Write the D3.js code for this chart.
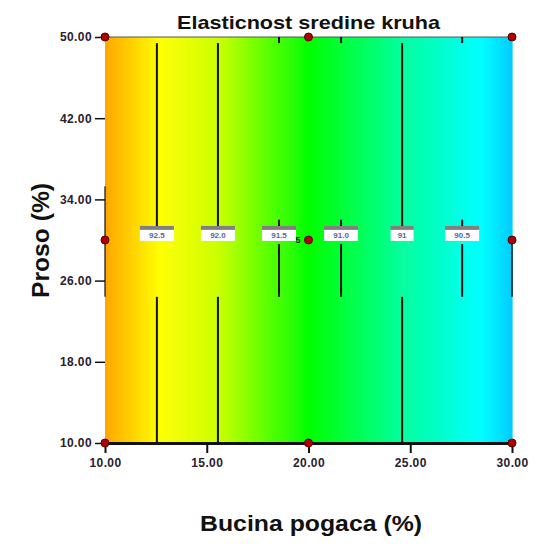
<!DOCTYPE html>
<html>
<head>
<meta charset="utf-8">
<script src="https://cdnjs.cloudflare.com/ajax/libs/d3/7.8.5/d3.min.js"></script>
<style>
  body { margin: 0; background: #fff; }
  text { font-family: "Liberation Sans", Arial, sans-serif; font-weight: bold; }
</style>
</head>
<body>
<div id="chart-area"></div>
<script>
// Data
var xTicks = [10, 15, 20, 25, 30];
var yTicks = [10, 18, 26, 34, 42, 50];

// design points (Bucina pogaca, Proso)
var pointsX = [10, 10, 10, 20, 20, 20, 30, 30, 30];
var pointsY = [10, 30, 50, 10, 30, 50, 10, 30, 50];
var centerReps = "5";

// contour lines: x position, label, visible y-ranges
var contourX = [12.55, 15.55, 18.55, 21.6, 24.6, 27.55];
var contourLabels = ["92.5", "92.0", "91.5", "91.0", "91", "90.5"];
var contourSegments = [
    [[10, 24.4], [31.3, 49.4]],
    [[10, 24.4], [31.3, 49.4]],
    [[24.4, 29.6], [31.3, 32.0], [49.4, 50]],
    [[24.4, 29.6], [31.3, 32.0], [49.4, 50]],
    [[10, 24.4], [31.3, 49.4]],
    [[24.4, 29.6], [31.3, 32.0], [49.4, 50]]
];
var labelY = 30.5;

var margin = { left: 105, right: 26, top: 37, bottom: 101 },
    width = 538 - margin.left - margin.right,
    height = 544 - margin.top - margin.bottom;

var svg = d3.select("#chart-area")
    .append("svg")
    .attr("width", 538)
    .attr("height", 544);
var g = svg.append("g")
    .attr("transform", "translate(" + margin.left + "," + margin.top + ")");

// Scales
var x = d3.scaleLinear().domain([10, 30]).range([0, width]);
var y = d3.scaleLinear().domain([10, 50]).range([height, 0]);
var color = d3.scaleLinear()
    .domain([10, 12.7, 15.5, 20, 24.5, 28.5, 30])
    .range(["#ffa500", "#ffff00", "#ccff00", "#00ff00", "#00ff99", "#00ffff", "#00ccff"]);

// colour surface, drawn as thin strips
var strips = d3.range(200).map(function(i){ return 10 + i * 20 / 200; });
g.selectAll(".strip")
    .data(strips)
    .enter().append("rect")
    .attr("class", "strip")
    .attr("x", function(d){ return x(d); })
    .attr("y", 0)
    .attr("width", x(10 + 20 / 200) - x(10) + 0.6)
    .attr("height", height)
    .attr("fill", function(d){ return color(d + 0.05); });

// top border
g.append("line")
    .attr("x1", 0).attr("x2", width)
    .attr("y1", 0).attr("y2", 0)
    .attr("stroke", "#555")
    .attr("stroke-width", 1);

// contour lines
contourX.forEach(function(cx, i){
    contourSegments[i].forEach(function(s){
        g.append("line")
            .attr("x1", x(cx)).attr("x2", x(cx))
            .attr("y1", y(s[0])).attr("y2", y(s[1]))
            .attr("stroke", "#111")
            .attr("stroke-width", 2);
    });
});

// contour labels
var lab = g.selectAll(".clabel")
    .data(contourX)
    .enter().append("g")
    .attr("class", "clabel")
    .attr("transform", function(d){ return "translate(" + x(d) + "," + y(labelY) + ")"; });
lab.each(function(d, i){
    var w = contourLabels[i].length > 2 ? 34 : 23;
    var s = d3.select(this);
    s.append("rect")
        .attr("x", -w / 2).attr("y", -9)
        .attr("width", w).attr("height", 4)
        .attr("fill", "#808080");
    s.append("rect")
        .attr("x", -w / 2).attr("y", -5)
        .attr("width", w).attr("height", 11)
        .attr("fill", "#fff");
    s.append("text")
        .attr("x", 0).attr("y", 3)
        .attr("text-anchor", "middle")
        .attr("font-size", "8px")
        .attr("fill", "#5566aa")
        .text(contourLabels[i]);
});

// Y-axis
var yAxis = g.append("g")
    .attr("class", "y axis")
    .call(d3.axisLeft(y).tickValues(yTicks).tickFormat(d3.format(".2f")).tickSize(10).tickPadding(3));
yAxis.select(".domain").remove();
yAxis.selectAll("line").attr("stroke", "#111").attr("stroke-width", 1.5);
yAxis.selectAll("text").attr("font-size", "12px").attr("letter-spacing", "0.4px").attr("fill", "#2a2030");

// left axis segment
g.append("line")
    .attr("x1", 0).attr("x2", 0)
    .attr("y1", y(35.3)).attr("y2", y(24.4))
    .attr("stroke", "#111").attr("stroke-width", 1.2);
g.append("line")
    .attr("x1", width).attr("x2", width)
    .attr("y1", y(29.6)).attr("y2", y(24.4))
    .attr("stroke", "#111").attr("stroke-width", 1.5);

// X-axis
var xAxis = g.append("g")
    .attr("class", "x axis")
    .attr("transform", "translate(0," + height + ")")
    .call(d3.axisBottom(x).tickValues(xTicks).tickFormat(d3.format(".2f")).tickSize(10).tickSizeOuter(0).tickPadding(5));
xAxis.select(".domain").attr("stroke", "#111").attr("stroke-width", 3);
xAxis.selectAll("line").attr("stroke", "#111").attr("stroke-width", 2);
xAxis.selectAll("text").attr("font-size", "12px").attr("letter-spacing", "0.4px").attr("fill", "#2a2030");

// design points
g.selectAll(".pt")
    .data(pointsX)
    .enter().append("circle")
    .attr("class", "pt")
    .attr("cx", function(d){ return x(d); })
    .attr("cy", function(d, i){ return y(pointsY[i]); })
    .attr("r", 4)
    .attr("fill", "#b00000")
    .attr("stroke", "#500")
    .attr("stroke-width", 1);

g.append("text")
    .attr("x", x(20) - 8)
    .attr("y", y(30) + 3)
    .attr("text-anchor", "end")
    .attr("font-size", "9px")
    .attr("fill", "#111")
    .text(centerReps);

// Labels
svg.append("text")
    .attr("x", 177)
    .attr("y", 29)
    .attr("font-size", "19px")
    .attr("textLength", 263)
    .attr("lengthAdjust", "spacingAndGlyphs")
    .attr("fill", "#111")
    .text("Elasticnost sredine kruha");

svg.append("text")
    .attr("x", 200)
    .attr("y", 531)
    .attr("font-size", "22px")
    .attr("textLength", 222)
    .attr("lengthAdjust", "spacingAndGlyphs")
    .attr("fill", "#111")
    .text("Bucina pogaca (%)");

svg.append("text")
    .attr("transform", "rotate(-90)")
    .attr("x", -298)
    .attr("y", 49)
    .attr("font-size", "24px")
    .attr("textLength", 115)
    .attr("lengthAdjust", "spacingAndGlyphs")
    .attr("fill", "#111")
    .text("Proso (%)");
</script>
</body>
</html>
